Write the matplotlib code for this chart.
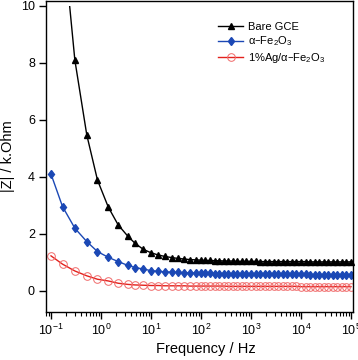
import matplotlib
matplotlib.use("Agg")
import matplotlib.pyplot as plt
from matplotlib.patches import Rectangle
from matplotlib.ticker import LogLocator, NullFormatter

plt.rcParams["font.family"] = ["Liberation Sans", "DejaVu Sans"]
plt.rcParams["mathtext.default"] = "regular"

# frequency points (Hz)
freq = [
    0.1, 0.17, 0.3, 0.52, 0.85, 1.4, 2.2, 3.4, 4.8, 7.0,
    10, 14, 19, 26, 35, 46, 60, 78,
    100, 123, 152, 187, 231, 285, 351, 433, 534, 658, 811,
    1000, 1233, 1520, 1874, 2310, 2848, 3511, 4329, 5337, 6579, 8111,
    10000, 12330, 15200, 18740, 23100, 28480, 35110, 43290, 53370, 65790, 81110,
    100000,
]

# |Z| in k.Ohm
bare_gce = [
    17.0, 12.6, 8.1, 5.47, 3.89, 2.94, 2.32, 1.93, 1.67, 1.46,
    1.34, 1.26, 1.21, 1.17, 1.14, 1.12, 1.10, 1.09,
    1.08, 1.07, 1.07, 1.06, 1.06, 1.05, 1.05, 1.05, 1.04, 1.04, 1.04,
    1.04, 1.04, 1.03, 1.03, 1.03, 1.03, 1.03, 1.03, 1.03, 1.03, 1.03,
    1.03, 1.03, 1.02, 1.02, 1.02, 1.02, 1.02, 1.02, 1.02, 1.02, 1.02,
    1.02,
]
fe2o3 = [
    4.10, 2.96, 2.20, 1.73, 1.38, 1.18, 1.03, 0.90, 0.82, 0.77,
    0.71, 0.69, 0.67, 0.66, 0.65, 0.64, 0.63, 0.63,
    0.62, 0.62, 0.62, 0.61, 0.61, 0.61, 0.60, 0.60, 0.60, 0.60, 0.60,
    0.59, 0.59, 0.59, 0.59, 0.59, 0.58, 0.58, 0.58, 0.58, 0.58, 0.58,
    0.58, 0.58, 0.57, 0.57, 0.57, 0.57, 0.57, 0.57, 0.57, 0.57, 0.57,
    0.57,
]
ag_fe2o3 = [
    1.23, 0.94, 0.70, 0.53, 0.41, 0.35, 0.27, 0.23, 0.21, 0.20,
    0.19, 0.19, 0.18, 0.18, 0.18, 0.18, 0.17, 0.17,
    0.17, 0.17, 0.17, 0.17, 0.17, 0.17, 0.16, 0.16, 0.16, 0.16, 0.16,
    0.16, 0.16, 0.16, 0.16, 0.16, 0.16, 0.16, 0.16, 0.16, 0.16, 0.16,
    0.15, 0.15, 0.15, 0.15, 0.15, 0.15, 0.15, 0.15, 0.15, 0.15, 0.15,
    0.15,
]

labels = ["Bare GCE", "α–Fe$_2$O$_3$", "1%Ag/α–Fe$_2$O$_3$"]

fig = plt.figure(figsize=(3.58, 3.60), dpi=100)
ax = fig.add_axes([0.1285, 0.1333, 0.8575, 0.8652])

black_line, = ax.plot(freq, bare_gce, color="black", lw=1.0, marker="^",
                      ms=5, mfc="black", mec="black", label=labels[0])
ax.plot(freq, fe2o3, color="#1b48b5", lw=1.0, marker="d", ms=4.5,
        mfc="#1b48b5", mec="#1b48b5", label=labels[1])
ax.plot(freq, ag_fe2o3, color="#e3211c", lw=1.0, marker="o", ms=5.5,
        mfc="none", mec="#f06a6a", mew=0.7, label=labels[2])

# the black trace is clipped at the top of the data range (10)
clip = Rectangle((1e-3, -5), 1e8, 15, transform=ax.transData)
black_line.set_clip_path(clip)

ax.set_xscale("log")
ax.set_xlim(10 ** -1.1, 10 ** 5.04)
ax.set_ylim(-0.74, 10.19)
ax.set_yticks([0, 2, 4, 6, 8, 10])
ax.xaxis.set_minor_locator(LogLocator(base=10, subs=range(2, 10), numticks=20))
ax.xaxis.set_minor_formatter(NullFormatter())

ax.tick_params(axis="both", which="major", direction="out", length=5, width=1,
               labelsize=9, pad=3)
ax.tick_params(axis="x", which="minor", direction="out", length=3, width=0.8)
ax.tick_params(top=False, right=False)
for s in ax.spines.values():
    s.set_linewidth(1.0)

ax.set_xlabel("Frequency / Hz", fontsize=10.5, labelpad=4)
ax.xaxis.set_label_coords(0.52, -0.095)
ax.set_ylabel("|Z| / k.Ohm", fontsize=10.5, labelpad=4)

ax.legend(loc="upper left", bbox_to_anchor=(0.56, 0.93), frameon=False,
          fontsize=8, handlelength=2.3, handletextpad=0.4, labelspacing=0.2,
          borderaxespad=0, borderpad=0)

fig.savefig("out.png", dpi=100)
